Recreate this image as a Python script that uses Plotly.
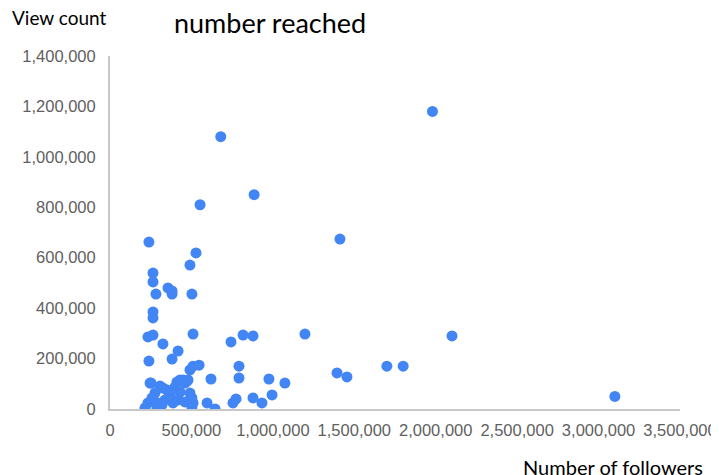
import plotly.graph_objects as go

# followers (x) and view count (y)
followers = [
    680000, 1980000, 885000, 553000, 239000, 1412000, 528000, 491000, 264000, 264000,
    282000, 356000, 381000, 381000, 503000, 264000, 264000, 233000, 264000, 325000,
    418000, 510000, 239000, 381000, 743000, 817000, 878000, 1197000, 491000, 510000,
    547000, 411000, 448000, 473000, 620000, 792000, 792000, 976000, 1074000, 1394000,
    1455000, 1700000, 1800000, 2100000, 3100000, 252000, 878000, 995000, 933000, 774000,
    755000, 596000, 645000, 503000, 503000,
    246000, 276000, 233000, 215000, 295000, 258000, 350000, 338000, 399000, 430000,
    460000, 479000, 418000, 460000, 491000, 510000, 387000, 325000, 307000, 368000,
    289000, 319000, 430000,
]
views = [
    1080000, 1180000, 850000, 810000, 662000, 674000, 619000, 571000, 539000, 504000,
    456000, 480000, 468000, 456000, 456000, 385000, 361000, 286000, 293000, 258000,
    230000, 297000, 190000, 198000, 266000, 293000, 290000, 297000, 155000, 170000,
    174000, 107000, 115000, 111000, 119000, 170000, 123000, 119000, 103000, 143000,
    127000, 170000, 170000, 290000, 50000, 103000, 44000, 56000, 24000, 40000,
    24000, 24000, 0, 8000, 44000,
    103000, 63000, 24000, 4000, 24000, 44000, 75000, 36000, 87000, 115000,
    103000, 115000, 36000, 28000, 63000, 24000, 24000, 83000, 91000, 56000,
    4000, 16000, 67000,
]

TICK_FONT = dict(family="Liberation Sans, Arial, sans-serif", size=16.5, color="#5f5f5f")
TEXT_FONT = "Lato, Noto Sans, sans-serif"

fig = go.Figure(go.Scatter(
    x=followers, y=views, mode="markers",
    marker=dict(color="#4285F4", size=11, line=dict(width=0)),
))

# page body adds an 8px offset, so margins are trimmed by that much
fig.update_layout(
    width=719, height=475,
    margin=dict(l=102, r=47, t=48, b=74),
    plot_bgcolor="white", paper_bgcolor="white",
    showlegend=False,
    xaxis=dict(
        range=[0, 3500000], tickvals=[0, 500000, 1000000, 1500000, 2000000, 2500000, 3000000, 3500000],
        tickformat=",d", showgrid=False, zeroline=False, automargin=False,
        showline=True, linecolor="#C8C8C8", linewidth=2,
        tickfont=TICK_FONT, ticklabelstandoff=5,
    ),
    yaxis=dict(
        range=[0, 1400000], dtick=200000, tickformat=",d", showgrid=False, zeroline=False,
        automargin=False,
        showline=True, linecolor="#C8C8C8", linewidth=2,
        tickfont=TICK_FONT, ticklabelstandoff=9,
    ),
    annotations=[
        dict(text="View count", xref="paper", yref="paper", x=-0.175, y=1.108,
             xanchor="left", yanchor="middle", showarrow=False,
             font=dict(family=TEXT_FONT, size=19, color="#000000")),
        dict(text="number reached", xref="paper", yref="paper", x=0.281, y=1.096,
             xanchor="center", yanchor="middle", showarrow=False,
             font=dict(family=TEXT_FONT, size=27, color="#000000")),
        dict(text="Number of followers", xref="paper", yref="paper", x=1.044, y=-0.164,
             xanchor="right", yanchor="middle", showarrow=False,
             font=dict(family=TEXT_FONT, size=20, color="#000000")),
    ],
)

fig.write_html("out.html")
